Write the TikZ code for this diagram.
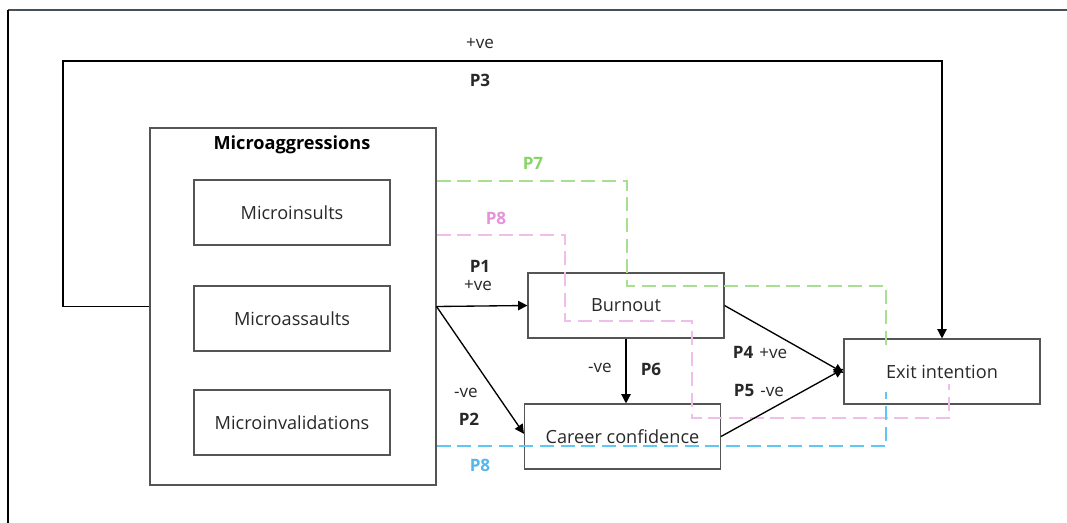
\documentclass[tikz,border=0pt]{standalone}
\usepackage{fontspec}
\setmainfont{Open Sans}
\usetikzlibrary{arrows.meta,calc}
\definecolor{boxgray}{RGB}{85,85,85}
\definecolor{txtgray}{RGB}{40,40,40}
\definecolor{framecol}{RGB}{70,80,90}
\definecolor{gline}{RGB}{166,224,144}
\definecolor{gtext}{RGB}{136,212,104}
\definecolor{pline}{RGB}{240,190,234}
\definecolor{ptext}{RGB}{230,146,218}
\definecolor{bline}{RGB}{96,198,242}
\definecolor{btext}{RGB}{84,182,234}
\begin{document}
\begin{tikzpicture}[x=0.75pt,y=-0.75pt,
  box/.style={draw=boxgray,line width=0.8pt,minimum width=147pt,minimum height=48.75pt,inner sep=0pt,
    font=\fontsize{13.6}{16}\selectfont,text=txtgray},
  lbl/.style={inner sep=0pt,font=\fontsize{12.8}{15}\selectfont,text=txtgray},
  blbl/.style={lbl,font=\fontsize{12.8}{15}\selectfont\bfseries},
  arr/.style={line width=1pt,-{Triangle[length=7pt,width=7pt]}},
  dsh/.style={line width=1.8pt,dash pattern=on 10.5pt off 5pt},
]
\useasboundingbox (0,0) rectangle (1067,523);
% frame
\coordinate (ftl) at (8,10);
\coordinate (ftr) at (1067,10);
\coordinate (fbl) at (8,523);
\draw[framecol,line width=1.6pt] (ftl) -- (ftr);
\draw[black,line width=0.9pt] (ftl) -- (fbl);

% boxes
\node[draw=boxgray,line width=0.8pt,minimum width=214.5pt,minimum height=267.75pt,inner sep=0pt] (mag) at (293,306.5) {};
\node[font=\fontsize{13.6}{16}\selectfont\bfseries,text=black,inner sep=0pt] (magt) at (292,145) {Microaggressions};
\node[box] (mins) at (292,212.5) {Microinsults};
\node[box] (mass) at (292,318.5) {Microassaults};
\node[box] (minv) at (292,422.5) {Microinvalidations};
\node[box] (burn) at (626,305.5) {Burnout};
\node[box] (car) at (622.5,436.5) {Career confidence};
\node[box] (exit) at (942,371.5) {Exit intention};

% dashed paths
\coordinate (g1) at (627,181);
\coordinate (g2) at (886,286);
\coordinate (g3) at (886,351);
\draw[dsh,gline] (mag.east |- g1) -- (g1) |- (g2) -- (g3);
\coordinate (k1) at (565,235);
\coordinate (k2) at (692,321);
\coordinate (k3) at (949,418);
\coordinate (k4) at (949,384);
\draw[dsh,pline] (mag.east |- k1) -- (k1) |- (k2) |- (k3) -- (k4);
\coordinate (b1) at (886,446);
\coordinate (b2) at (886,392);
\draw[dsh,bline] (mag.east |- b1) -- (b1) -- (b2);

% P3
\coordinate (p3a) at (63,61);
\draw[arr] (mag.west) -| (p3a) -| (exit.north);
% P1, P2
\draw[arr] (mag.east) -- (burn.west);
\draw[arr] (mag.east) -- ([yshift=2pt]car.west);
% P6
\draw[arr] (burn.south) -- (burn.south |- car.north);
% P4, P5
\draw[arr] (burn.east) -- ([yshift=-1pt]exit.west);
\draw[arr] (car.east) -- ([yshift=2pt]exit.west);

% labels
\node[lbl] (l3a) at (480,44) {+ve};
\node[blbl] (l3b) at (480,80) {P3};
\node[blbl,text=gtext] (l7) at (533,163) {P7};
\node[blbl,text=ptext] (l8p) at (496,218) {P8};
\node[blbl] (l1a) at (480,266) {P1};
\node[lbl] (l1b) at (478,286) {+ve};
\node[lbl] (l2a) at (466,393) {-ve};
\node[blbl] (l2b) at (469,419) {P2};
\node[blbl,text=btext] (l8b) at (480,465) {P8};
\node[lbl] (l6a) at (600,368) {-ve};
\node[blbl] (l6b) at (651,369) {P6};
\node[lbl] (l4) at (760,352) {\textbf{P4}\hspace{0.35em}+ve};
\node[lbl] (l5) at (759,390) {\textbf{P5}\hspace{0.35em}-ve};
\end{tikzpicture}
\end{document}
